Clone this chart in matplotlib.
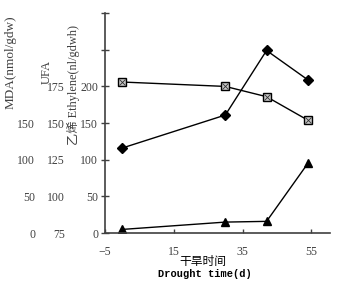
import matplotlib
matplotlib.use("Agg")
import matplotlib.pyplot as plt

# drought time (d)
days = [0, 30, 42, 54]
# series (in main axis units)
diamond_vals = [116, 161, 249, 209]
square_vals = [206, 200, 186, 154]
triangle_vals = [5, 15, 16, 95]

main_ticks = [0, 50, 100, 150, 200, 250, 300]
main_labels = ['0', '50', '100', '150', '200', '', '']
mda_ticks = [0, 50, 100, 150]
ufa_ticks = [75, 100, 125, 150, 175]
x_ticks = [-5, 15, 35, 55]

serif = ['Liberation Serif', 'DejaVu Serif']
plt.rcParams['font.family'] = serif

fig = plt.figure(figsize=(3.49, 2.91), dpi=100)
ax = fig.add_axes([0.301, 0.199, 0.645, 0.756])

ax.plot(days, diamond_vals, 'k-', lw=1.0, marker='D', ms=5, mfc='k', mec='k')
ax.plot(days, square_vals, 'k-', lw=1.0, marker='s', ms=6, mfc='#c8c8c8', mec='k', mew=1.0)
ax.plot(days, square_vals, 'none', marker='x', ms=4, mec='#303030', mew=0.6)
ax.plot(days, triangle_vals, 'k-', lw=1.0, marker='^', ms=6, mfc='k', mec='k')

ax.set_xlim(-5, 60.5)
ax.set_ylim(0, 300)
ax.spines['top'].set_visible(False)
ax.spines['right'].set_visible(False)
ax.spines['left'].set_linewidth(1.2)
ax.spines['bottom'].set_linewidth(1.2)
ax.spines['left'].set_color('#404040')
ax.spines['bottom'].set_color('#404040')

ax.set_yticks(main_ticks)
ax.set_yticklabels(main_labels)
ax.tick_params(axis='y', direction='inout', length=6, width=1.0, pad=2, labelsize=8.5, colors='#404040')
ax.set_xticks(x_ticks)
ax.tick_params(axis='x', direction='in', length=3, width=1.0, pad=9, labelsize=8.5, colors='#404040')

# extra value columns for the other variables
mda_ax = ax.secondary_yaxis(-0.311, functions=(lambda v: v, lambda v: v))
mda_ax.set_yticks(mda_ticks)
mda_ax.spines['left'].set_visible(False)
mda_ax.tick_params(length=0, pad=0, labelsize=8.5, colors='#404040')

ufa_ax = ax.secondary_yaxis(-0.178, functions=(lambda v: 75 + v / 2, lambda u: (u - 75) * 2))
ufa_ax.set_yticks(ufa_ticks)
ufa_ax.spines['left'].set_visible(False)
ufa_ax.tick_params(length=0, pad=0, labelsize=8.5, colors='#404040')

fig.text(11 / 349, 1 - 62 / 291, 'MDA(nmol/gdw)', rotation=90, ha='center', va='center',
         fontsize=9.5, color='#404040')
fig.text(47 / 349, 1 - 72 / 291, 'UFA', rotation=90, ha='center', va='center',
         fontsize=9, color='#404040')
fig.text(73 / 349, 1 - 85 / 291, '乙烯 Ethylene(nl/gdwh)', rotation=90, ha='center', va='center',
         fontsize=8.8, color='#404040', family=['Liberation Serif', 'Noto Sans CJK SC'])

fig.text(203 / 349, 1 - 262 / 291, '干旱时间', ha='center', va='center', fontsize=8.5,
         family=['Noto Sans CJK SC'])
fig.text(205 / 349, 1 - 274 / 291, 'Drought time(d)', ha='center', va='center', fontsize=7.5,
         family=['Liberation Mono'], weight='bold')

fig.savefig('out.png', dpi=100)
